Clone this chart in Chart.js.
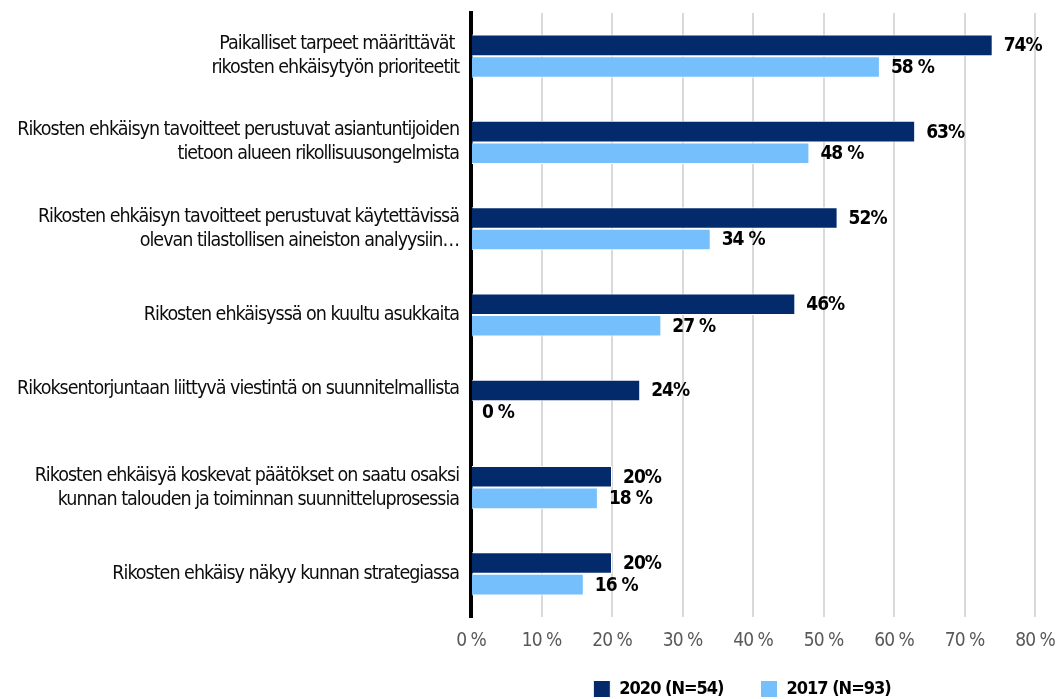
<!DOCTYPE html>
<html>
<head>
<meta charset="utf-8">
<script src="https://cdn.jsdelivr.net/npm/chart.js@4/dist/chart.umd.min.js"></script>
<style>
html,body{margin:0;padding:0;background:#fff;}
#wrap{width:1061px;height:699px;position:relative;}
</style>
</head>
<body>
<div id="wrap"><canvas id="c" width="1061" height="699"></canvas></div>
<script>
const categories = [
  ["Paikalliset tarpeet määrittävät ", "rikosten ehkäisytyön prioriteetit"],
  ["Rikosten ehkäisyn tavoitteet perustuvat asiantuntijoiden", "tietoon alueen rikollisuusongelmista"],
  ["Rikosten ehkäisyn tavoitteet perustuvat käytettävissä", "olevan tilastollisen aineiston analyysiin…"],
  "Rikosten ehkäisyssä on kuultu asukkaita",
  ["Rikoksentorjuntaan liittyvä viestintä on suunnitelmallista", ""],
  ["Rikosten ehkäisyä koskevat päätökset on saatu osaksi", "kunnan talouden ja toiminnan suunnitteluprosessia"],
  "Rikosten ehkäisy näkyy kunnan strategiassa"
];
const seriesNames = ["2020 (N=54)", "2017 (N=93)"];
const values2020 = [74, 63, 52, 46, 24, 20, 20];
const values2017 = [58, 48, 34, 27, 0, 18, 16];
const valueLabels2020 = ["74%", "63%", "52%", "46%", "24%", "20%", "20%"];
const valueLabels2017 = ["58 %", "48 %", "34 %", "27 %", "0 %", "18 %", "16 %"];
const xTicks = ["0 %", "10 %", "20 %", "30 %", "40 %", "50 %", "60 %", "70 %", "80 %"];

const FONT = "'DejaVu Sans Condensed', 'DejaVu Sans', sans-serif";
const DARK = '#032b6c';
const LIGHT = '#75bffd';

const letterSpacingPlugin = {
  id: 'letterSpacingPlugin',
  beforeUpdate(chart) { chart.ctx.letterSpacing = '-1px'; },
  beforeDraw(chart) { chart.ctx.letterSpacing = '-1px'; }
};

const valueLabelPlugin = {
  id: 'valueLabelPlugin',
  afterDatasetsDraw(chart) {
    const ctx = chart.ctx;
    const texts = [valueLabels2020, valueLabels2017];
    ctx.save();
    ctx.font = 'bold 19px ' + FONT;
    ctx.fillStyle = '#000';
    ctx.textAlign = 'left';
    ctx.textBaseline = 'middle';
    chart.data.datasets.forEach((ds, i) => {
      chart.getDatasetMeta(i).data.forEach((bar, j) => {
        ctx.fillText(texts[i][j], bar.x + 11, bar.y + 1);
      });
    });
    ctx.restore();
  }
};

const legendPlacePlugin = {
  id: 'legendPlacePlugin',
  afterLayout(chart) {
    const lg = chart.legend;
    if (!lg) return;
    const pad = lg.options.labels.padding;
    lg.top = 680 - pad;
    lg.bottom = chart.height;
    const shift = 742 - (lg.left + lg.right) / 2;
    lg.left += shift;
    lg.right += shift;
  }
};

new Chart(document.getElementById('c'), {
  type: 'bar',
  data: {
    labels: categories,
    datasets: [
      { label: seriesNames[0], data: values2020, backgroundColor: DARK, borderColor: '#ffffff', borderWidth: 1,
        categoryPercentage: 0.5, barPercentage: 1.0 },
      { label: seriesNames[1], data: values2017, backgroundColor: LIGHT, borderColor: '#ffffff', borderWidth: 1,
        categoryPercentage: 0.5, barPercentage: 1.0 }
    ]
  },
  options: {
    indexAxis: 'y',
    responsive: false,
    animation: false,
    devicePixelRatio: 1,
    layout: { padding: { top: 13, right: 26, bottom: 0, left: 0 } },
    scales: {
      x: {
        min: 0, max: 80,
        ticks: {
          stepSize: 10,
          color: '#595959',
          padding: 13,
          font: { family: FONT, size: 19 },
          callback: (v, i) => xTicks[i]
        },
        grid: { color: '#d9d9d9', lineWidth: 2, drawTicks: false },
        border: { display: false },
        afterFit: s => { s.height = 52; s.paddingLeft = 0; s.paddingRight = 0; }
      },
      y: {
        ticks: {
          color: '#0d0d0d',
          padding: 12,
          font: { family: FONT, size: 19.5, lineHeight: 1.23 },
          autoSkip: false
        },
        grid: { display: false, drawTicks: false },
        border: { display: true, color: '#000', width: 4 },
        afterFit: s => { s.width = 471; s.paddingTop = 0; s.paddingBottom = 0; }
      }
    },
    plugins: {
      legend: {
        position: 'bottom',
        maxHeight: 30,
        labels: {
          boxWidth: 17, boxHeight: 17, padding: 37, color: '#000',
          font: { family: FONT, size: 18, weight: 'bold' }
        }
      },
      tooltip: { enabled: false }
    }
  },
  plugins: [letterSpacingPlugin, valueLabelPlugin, legendPlacePlugin]
});
</script>
</body>
</html>
